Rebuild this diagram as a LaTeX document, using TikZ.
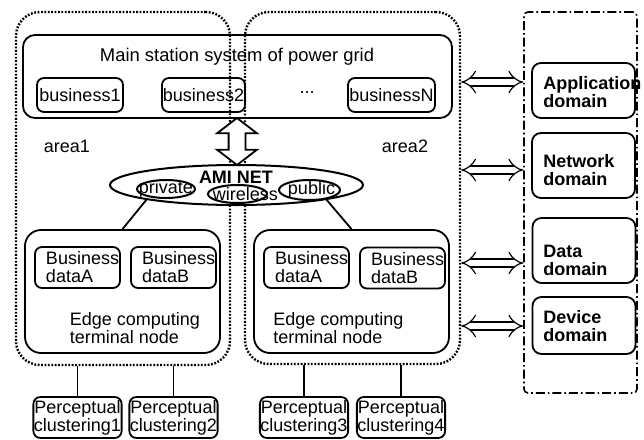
\documentclass[tikz,border=0pt]{standalone}
\usepackage{fontspec}
\setmainfont{Liberation Sans}
\usepackage{tikz}
\usetikzlibrary{arrows.meta,positioning,fit,shapes.geometric,shapes.arrows}
\newcommand{\figfont}{\fontsize{9}{9}\selectfont}
\tikzset{
  areabox/.style={draw,line width=1.2pt,dash pattern=on 0.9pt off 0.8pt,rounded corners=12pt,inner sep=0pt},
  mainbox/.style={draw,line width=0.9pt,rounded corners=6pt,inner sep=0pt},
  bizbox/.style={draw,line width=0.9pt,rounded corners=3.5pt,minimum height=17pt,inner sep=0.5pt,font=\figfont},
  edgebox/.style={draw,line width=0.9pt,rounded corners=8pt,minimum width=97.5pt,minimum height=61.5pt},
  databox/.style={draw,line width=0.9pt,rounded corners=3.5pt,minimum width=42.5pt,minimum height=20.5pt,text width=31.5pt,inner xsep=5.5pt,inner ysep=0pt,align=left,font=\figfont},
  percbox/.style={draw,line width=0.9pt,rounded corners=3.5pt,minimum width=44pt,minimum height=20.5pt,inner sep=0.3pt,align=center,font=\figfont},
  netell/.style={ellipse,draw,line width=1pt,fill=white,inner sep=0pt},
  subell/.style={ellipse,draw,line width=1pt,inner sep=0pt},
  bigarr/.style={double arrow,draw,fill=white,line width=0.9pt,rotate=90,minimum height=23.5pt,inner xsep=0pt,inner ysep=3.75pt,double arrow head extend=5.75pt,double arrow tip angle=105},
  domframe/.style={draw,line width=0.8pt,dash pattern=on 4.5pt off 1.5pt on 0.8pt off 1.5pt,rounded corners=2pt,inner sep=0pt},
  dombox/.style={draw,line width=0.9pt,rounded corners=4.5pt,minimum width=51.5pt},
  domtxt/.style={anchor=west,align=left,inner sep=0pt,font=\figfont\bfseries},
  lbl/.style={font=\figfont,inner sep=0pt},
  dblarr/.style={double,double distance=3.4pt,line width=0.6pt,{Implies}-{Implies}},
  link/.style={line width=0.9pt},
}

\begin{document}
\begin{tikzpicture}[x=0.5pt,y=-0.5pt]
  \useasboundingbox (0,0) rectangle (644,440);
  % two areas
  \node[areabox,fit={(16,12)(230,365)}] (nArea1) {};
  \node[areabox,fit={(245,12)(460,364)}] (nArea2) {};
  \node[lbl] (nA1) at (67,146) {area1};
  \node[lbl] (nA2) at (405,146) {area2};
  % main station
  \node[mainbox,fit={(23,35)(452,118)}] (nMain) {};
  \node[lbl,font=\fontsize{9.2}{9.2}\selectfont] (nMainT) at (237,57) {Main station system of power grid};
  \node[bizbox,minimum width=43pt] (nBiz1) at (80,95) {business1};
  \node[bizbox,minimum width=41.5pt] (nBiz2) at (203.5,95) {business2};
  \node[lbl] (nDots) at (307,93) {...};
  \node[bizbox,minimum width=43.5pt] (nBizN) at (391.5,95) {businessN};
  \node[bigarr] (nArr) at (237,141.5) {};
  % AMI NET
  \node[netell,minimum width=126.5pt,minimum height=20pt] (nAmi) at (236.5,185) {};
  \node[subell,minimum width=29pt,minimum height=9pt,label={[lbl]center:private}] (nPriv) at (166,189) {};
  \node[subell,minimum width=29.5pt,minimum height=9pt,label={[lbl,xshift=4pt]center:wireless}] (nWire) at (237.5,194) {};
  \node[subell,minimum width=30.5pt,minimum height=10pt,label={[lbl,xshift=1pt]center:public}] (nPub) at (309.5,190) {};
  \node[lbl,font=\figfont\bfseries] (nAmiT) at (236,177) {AMI NET};
  % edge computing nodes
  \node[edgebox] (nEdge1) at (122.5,291.5) {};
  \node[edgebox] (nEdge2) at (351.5,291.5) {};
  \node[databox] (nDA1) at (77.5,267.5) {Business\\dataA};
  \node[databox] (nDB1) at (173.5,267.5) {Business\\dataB};
  \node[databox] (nDA2) at (306.5,267.5) {Business\\dataA};
  \node[databox] (nDB2) at (402.5,268) {Business\\dataB};
  \node[lbl,align=left] (nEt1) at (135,328) {Edge computing\\terminal node};
  \node[lbl,align=left] (nEt2) at (338.5,328) {Edge computing\\terminal node};
  \draw[link] (nAmi.south west) -- (nEdge1.north);
  \draw[link] (nAmi.south east) -- (nEdge2.north);
  % perceptual clusterings
  \node[percbox] (nPc1) at (77.5,417.5) {Perceptual\\clustering1};
  \node[percbox] (nPc2) at (173.5,417.5) {Perceptual\\clustering2};
  \node[percbox] (nPc3) at (304,417.5) {Perceptual\\clustering3};
  \node[percbox] (nPc4) at (401,417.5) {Perceptual\\clustering4};
  \draw[link] (nPc1.north) -- (nPc1.north |- nArea1.south);
  \draw[link] (nPc2.north) -- (nPc2.north |- nArea1.south);
  \draw[link] (nPc3.north) -- (nPc3.north |- nArea2.south);
  \draw[link] (nPc4.north) -- (nPc4.north |- nArea2.south);
  % domains
  \node[domframe,fit={(524,12)(637,393)}] (nDom) {};
  \node[dombox,minimum height=27.5pt] (nApp) at (583.5,90.5) {};
  \node[dombox,minimum height=32.5pt] (nNet) at (583.5,165.5) {};
  \node[dombox,minimum height=32.5pt] (nData) at (584,250.5) {};
  \node[dombox,minimum height=28.5pt] (nDev) at (584,325.5) {};
  \node[domtxt] (nAppT) at (543,92.5) {Application\\domain};
  \node[domtxt] (nNetT) at (543,170) {Network\\domain};
  \node[domtxt] (nDataT) at (543,260) {Data\\domain};
  \node[domtxt] (nDevT) at (543,326.5) {Device\\domain};
  \draw[dblarr] (nArea2.east |- 0,82) -- (nDom.west |- 0,82);
  \draw[dblarr] (nArea2.east |- 0,170) -- (nDom.west |- 0,170);
  \draw[dblarr] (nArea2.east |- 0,263) -- (nDom.west |- 0,263);
  \draw[dblarr] (nArea2.east |- 0,326) -- (nDom.west |- 0,326);
\end{tikzpicture}
\end{document}
